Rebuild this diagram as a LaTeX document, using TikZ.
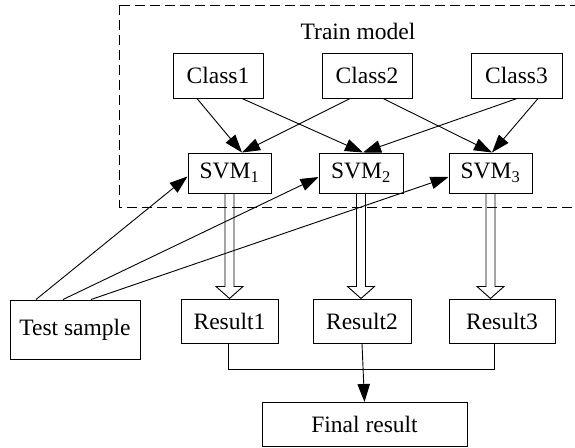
\documentclass[tikz,border=0pt]{standalone}
\usepackage{fontspec}
\setmainfont{Liberation Serif}
\usetikzlibrary{arrows.meta,calc}

% hollow block arrow pointing down from one node to the next
\newcommand\hollowdown[2]{%
  \coordinate (hd-tip) at (#1.south |- #2.north);
  \draw[line width=0.9pt]
    ([xshift=-4.5pt]#1.south)
    -- ([xshift=-4.5pt,yshift=12pt]hd-tip)
    -- ([xshift=-13.5pt,yshift=12pt]hd-tip)
    -- (hd-tip)
    -- ([xshift=13.5pt,yshift=12pt]hd-tip)
    -- ([xshift=4.5pt,yshift=12pt]hd-tip)
    -- ([xshift=4.5pt]#1.south);
}

\begin{document}
\begin{tikzpicture}[x=1pt,y=-1pt,
  font=\fontsize{23.5}{28}\selectfont,
  box/.style={draw, line width=1pt, inner sep=0pt, align=center},
  classbox/.style={box, minimum width=90pt, minimum height=45pt},
  svmbox/.style={box, minimum width=83pt, minimum height=40pt},
  resbox/.style={box, minimum height=44pt},
  link/.style={line width=0.9pt, -{Triangle[length=18pt,width=12.5pt]}},
  plain/.style={line width=0.9pt},
  frame/.style={line width=1pt, dash pattern=on 10pt off 5pt}]

\clip (0,0) rectangle (575,447);

% training region
\draw[frame] (119,5) rectangle (590,207);
\node (title) at (358,31) {Train model};

\node[classbox] (c1) at (218,75.5) {Class1};
\node[classbox] (c2) at (367,75.5) {Class2};
\node[classbox, minimum width=91pt] (c3) at (516.5,75.5) {Class3};

\node[svmbox] (s1) at (229.5,173) {SVM\textsubscript{1}};
\node[svmbox, minimum width=84pt] (s2) at (361,173) {SVM\textsubscript{2}};
\node[svmbox] (s3) at (490.5,173) {SVM\textsubscript{3}};

% test stage
\node[box, minimum width=130pt, minimum height=59pt] (test) at (75,329.5) {Test sample};
\node[resbox, minimum width=97pt] (r1) at (229.5,321) {Result1};
\node[resbox, minimum width=98pt] (r2) at (362,321) {Result2};
\node[resbox, minimum width=106pt] (r3) at (502,321) {Result3};
\node[box, minimum width=205pt, minimum height=44pt] (final) at (364.5,424.5) {Final result};

% class samples feeding the pairwise classifiers
\draw[link] ([xshift=-21pt]c1.south) -- ([xshift=12.5pt]s1.north);
\draw[link] ([xshift=24pt]c1.south) -- ([xshift=2pt]s2.north);
\draw[link] ([xshift=-17pt]c2.south) -- ([xshift=12.5pt]s1.north);
\draw[link] ([xshift=16pt]c2.south) -- ([xshift=1.5pt]s3.north);
\draw[link] ([xshift=0.5pt]c3.south) -- ([xshift=2pt]s2.north);
\draw[link] ([xshift=21.5pt]c3.south) -- ([xshift=1.5pt]s3.north);

% test sample into each classifier
\draw[link] ([xshift=-39pt]test.north) -- ([yshift=-3.5pt]s1.west);
\draw[link] ([xshift=-12pt]test.north) -- ([yshift=-4pt]s2.west);
\draw[link] ([xshift=16pt]test.north) -- ([yshift=-4pt]s3.west);

% classifier outputs
\hollowdown{s1}{r1}
\hollowdown{s2}{r2}
\hollowdown{s3}{r3}

% voting
\coordinate (join) at ([yshift=-26pt]r2.south);
\draw[plain] ([xshift=-1.5pt]r1.south) |- (join) -| ([xshift=-8pt]r3.south);
\draw[link] (r2.south) -- (final.north);
\end{tikzpicture}
\end{document}
